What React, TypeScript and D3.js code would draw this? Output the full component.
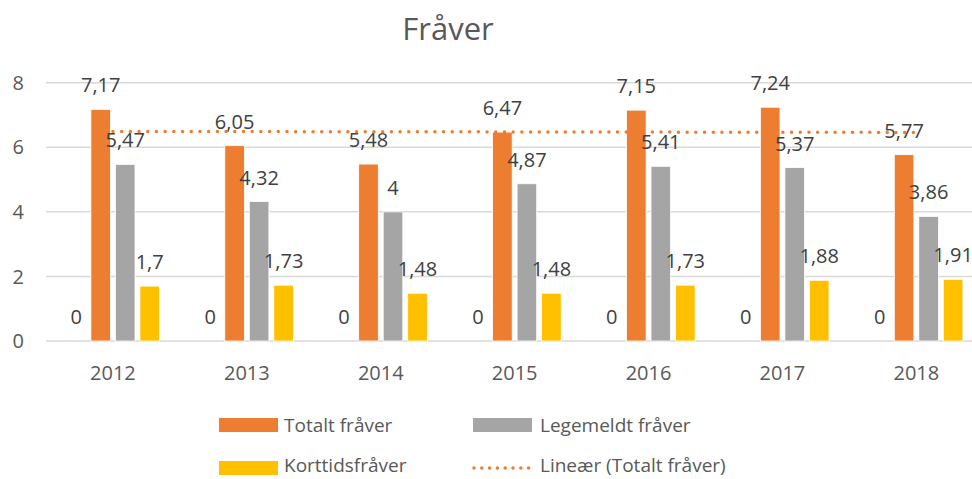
import React from "react";
import * as d3 from "d3";

const years = ["2012", "2013", "2014", "2015", "2016", "2017", "2018"];
const zeroSeries = [0, 0, 0, 0, 0, 0, 0];
const totalt = [7.17, 6.05, 5.48, 6.47, 7.15, 7.24, 5.77];
const legemeldt = [5.47, 4.32, 4, 4.87, 5.41, 5.37, 3.86];
const korttids = [1.7, 1.73, 1.48, 1.48, 1.73, 1.88, 1.91];
const yTicks = [0, 2, 4, 6, 8];

const seriesNames = ["Serie 0", "Totalt fråver", "Legemeldt fråver", "Korttidsfråver"];
const seriesColors = ["none", "#ED7D31", "#A5A5A5", "#FFC000"];

const fmt = (v: number) => String(v).replace(".", ",");

export default function App() {
  const W = 972, H = 479;
  const x = d3.scaleBand<string>().domain(years).range([46, 46 + 133.9 * 7]);
  const y = d3.scaleLinear().domain([0, 8]).range([341, 82.7]);
  const bw = 19.6;
  const step = bw * 1.25;
  const groupW = step * 3 + bw;
  const all = [zeroSeries, totalt, legemeldt, korttids];

  // linear trend
  const n = totalt.length;
  const xs = d3.range(n);
  const mx = d3.mean(xs)!;
  const my = d3.mean(totalt)!;
  const slope = d3.sum(xs, (i) => (i - mx) * (totalt[i] - my)) / d3.sum(xs, (i) => (i - mx) ** 2);
  const trend = (i: number) => my + slope * (i - mx);
  const cx = (i: number) => x(years[i])! + x.bandwidth() / 2;
  const trendLine = d3.line<number>().x((i) => cx(i)).y((i) => y(trend(i)))([0, n - 1]);

  const font = "'Open Sans', sans-serif";
  return (
    <svg width={W} height={H} style={{ position: "absolute", left: 0, top: 0, background: "#fff" }} fontFamily={font}>
      <text x={448} y={40} textAnchor="middle" fontSize={31} fill="#595959">Fråver</text>
      {yTicks.map((t) => (
        <g key={t}>
          <line x1={46} x2={W} y1={y(t)} y2={y(t)} stroke="#D9D9D9" strokeWidth={1.5} />
          <text x={24} y={y(t)} dy="0.36em" textAnchor="end" fontSize={20} fill="#595959">{t}</text>
        </g>
      ))}
      {years.map((yr, i) => {
        const c = cx(i);
        const start = c - groupW / 2;
        return (
          <g key={yr}>
            {all.map((s, k) => {
              const bx = start + k * step;
              const v = s[i];
              return (
                <g key={k}>
                  {v > 0 && (
                    <rect x={bx} y={y(v)} width={bw} height={y(0) - y(v)} fill={seriesColors[k]} stroke="#fff" strokeWidth={0.8} />
                  )}
                  <text x={bx + bw / 2} y={y(v) - 17} textAnchor="middle" fontSize={20} fill="#404040">{fmt(v)}</text>
                </g>
              );
            })}
            <text x={c} y={380} textAnchor="middle" fontSize={20} fill="#595959">{yr}</text>
          </g>
        );
      })}
      <path d={trendLine!} stroke="#ED7D31" strokeWidth={3.5} strokeDasharray="0 8.7" strokeLinecap="round" fill="none" />
      {/* legend */}
      <g fontSize={19} fill="#595959">
        <rect x={219} y={418} width={59} height={14} fill={seriesColors[1]} />
        <text x={284} y={432}>{seriesNames[1]}</text>
        <rect x={473} y={418} width={59} height={14} fill={seriesColors[2]} />
        <text x={540} y={432}>{seriesNames[2]}</text>
        <rect x={219} y={461} width={59} height={14} fill={seriesColors[3]} />
        <text x={284} y={472}>{seriesNames[3]}</text>
        <line x1={474} x2={529} y1={468} y2={468} stroke="#ED7D31" strokeWidth={3.5} strokeDasharray="0 7.8" strokeLinecap="round" />
        <text x={540} y={472}>Lineær (Totalt fråver)</text>
      </g>
    </svg>
  );
}
